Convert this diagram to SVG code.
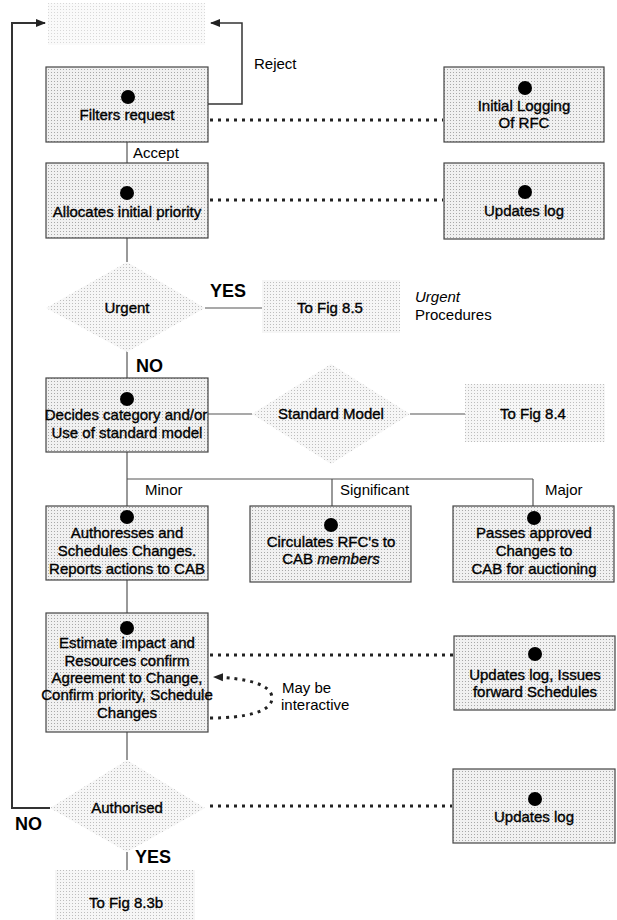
<svg xmlns="http://www.w3.org/2000/svg" width="617" height="920" viewBox="0 0 617 920">
<style>
text{font-family:"Liberation Sans",Arial,sans-serif;font-size:15px;fill:#000}
.t{text-anchor:middle;stroke:#000;stroke-width:0.35}
.lbl{font-size:15px}
.big{font-size:18px;font-weight:bold}
.box{fill:url(#stip);stroke:#444;stroke-width:1.2}
.dia{fill:url(#stip2);stroke:none}
.fig{fill:url(#stip2);stroke:none}
.ln{stroke:#555;stroke-width:1.2;fill:none}
.dot{stroke:#222;stroke-width:3;stroke-dasharray:3 5;fill:none}
.loop{stroke:#333;stroke-width:2;fill:none}
</style>
<defs>
<pattern id="stip" width="3" height="3" patternUnits="userSpaceOnUse">
<rect width="3" height="3" fill="#f1f1f1"/>
<rect width="1" height="1" fill="#a8a8a8"/>
</pattern>
<pattern id="stip2" width="3" height="3" patternUnits="userSpaceOnUse">
<rect width="3" height="3" fill="#f6f6f6"/>
<rect width="1" height="1" fill="#bdbdbd"/>
</pattern>
<pattern id="stip3" width="3" height="3" patternUnits="userSpaceOnUse">
<rect width="3" height="3" fill="#fafafa"/>
<rect width="1" height="1" fill="#d8d8d8"/>
</pattern>
<marker id="arr" viewBox="0 0 10 10" refX="9" refY="5" markerWidth="10" markerHeight="10" markerUnits="userSpaceOnUse" orient="auto">
<path d="M0,1 L10,5 L0,9 z" fill="#222"/>
</marker>
</defs>

<g id="connectors">
<path class="loop" d="M50,808 L12,808 L12,23 L45,23" marker-end="url(#arr)"/>
<path class="ln" d="M208,104 L242,104 L242,23 L211,23" marker-end="url(#arr)" style="stroke:#333;stroke-width:1.5"/>
<line class="ln" x1="127" y1="142" x2="127" y2="163"/>
<line class="ln" x1="127" y1="238" x2="127" y2="262"/>
<line class="ln" x1="205" y1="308" x2="262" y2="308"/>
<line class="ln" x1="127" y1="352" x2="127" y2="378"/>
<line class="ln" x1="208" y1="414" x2="252" y2="414"/>
<line class="ln" x1="410" y1="414" x2="465" y2="414"/>
<line class="ln" x1="127" y1="452" x2="127" y2="506"/>
<polyline class="ln" points="127,479 533,479"/>
<line class="ln" x1="332" y1="479" x2="332" y2="506"/>
<line class="ln" x1="533" y1="479" x2="533" y2="506"/>
<line class="ln" x1="127" y1="580" x2="127" y2="613"/>
<line class="ln" x1="127" y1="732" x2="127" y2="760"/>
<line class="ln" x1="127" y1="852" x2="127" y2="872"/>
<line class="dot" x1="210" y1="120" x2="443" y2="120"/>
<line class="dot" x1="210" y1="200" x2="443" y2="200"/>
<line class="dot" x1="210" y1="655" x2="453" y2="655"/>
<line class="dot" x1="210" y1="806" x2="452" y2="806"/>
<path d="M210,718 C245,718 272,712 272,698 C272,684 245,678 214,677" fill="none" stroke="#222" stroke-width="3" stroke-dasharray="3 5" marker-end="url(#arr)"/>
</g>

<g id="top-box"><rect x="48" y="3" width="157" height="42" fill="url(#stip3)"/></g>

<g id="filters"><rect class="box" x="46" y="67" width="162" height="75"/><circle cx="128" cy="97" r="7"/><text class="t" x="127" y="120">Filters request</text></g>
<text class="lbl" x="254" y="69">Reject</text>
<text class="lbl" x="133" y="158">Accept</text>

<g id="initial-logging"><rect class="box" x="444" y="67" width="160" height="75"/><circle cx="525" cy="88" r="7"/><text class="t" x="524" y="111">Initial Logging</text><text class="t" x="524" y="128">Of RFC</text></g>

<g id="allocates"><rect class="box" x="46" y="163" width="162" height="75"/><circle cx="127" cy="193" r="7"/><text class="t" x="127" y="217">Allocates initial priority</text></g>

<g id="updates-log-1"><rect class="box" x="444" y="163" width="160" height="76"/><circle cx="525" cy="192" r="7"/><text class="t" x="524" y="216">Updates log</text></g>

<g id="urgent"><polygon class="dia" points="127,262 205,308 127,352 46,308"/><text class="t" x="127" y="313">Urgent</text></g>
<text class="big" x="210" y="297">YES</text>
<g id="fig85"><rect class="fig" x="262" y="280" width="138" height="53"/><text class="t" x="330" y="313">To Fig 8.5</text></g>
<text x="415" y="302" style="font-style:italic">Urgent</text>
<text x="415" y="320">Procedures</text>
<text class="big" x="136" y="372">NO</text>

<g id="decides"><rect class="box" x="46" y="378" width="162" height="74"/><circle cx="127" cy="399" r="7"/><text class="t" x="126" y="420">Decides category and/or</text><text class="t" x="127" y="438">Use of standard model</text></g>

<g id="standard-model"><polygon class="dia" points="331,364 410,414 331,464 252,414"/><text class="t" x="331" y="419">Standard Model</text></g>
<g id="fig84"><rect class="fig" x="465" y="384" width="140" height="58"/><text class="t" x="533" y="419">To Fig 8.4</text></g>

<text class="lbl" x="145" y="495">Minor</text>
<text class="lbl" x="340" y="495">Significant</text>
<text class="lbl" x="545" y="495">Major</text>

<g id="minor"><rect class="box" x="46" y="506" width="162" height="74"/><circle cx="127" cy="517" r="7"/><text class="t" x="127" y="538">Authoresses and</text><text class="t" x="127" y="556">Schedules Changes.</text><text class="t" x="127" y="574">Reports actions to CAB</text></g>

<g id="significant"><rect class="box" x="250" y="506" width="161" height="76"/><circle cx="331" cy="525" r="7"/><text class="t" x="331" y="547">Circulates RFC's to</text><text class="t" x="331" y="564">CAB <tspan style="font-style:italic">members</tspan></text></g>

<g id="major"><rect class="box" x="453" y="506" width="161" height="76"/><circle cx="534" cy="518" r="7"/><text class="t" x="534" y="538">Passes approved</text><text class="t" x="534" y="556">Changes to</text><text class="t" x="534" y="574">CAB for auctioning</text></g>

<g id="estimate"><rect class="box" x="46" y="613" width="162" height="119"/><circle cx="127" cy="628" r="7"/><text class="t" x="127" y="648">Estimate impact and</text><text class="t" x="127" y="666">Resources confirm</text><text class="t" x="127" y="683">Agreement to Change,</text><text class="t" x="127" y="700">Confirm priority, Schedule</text><text class="t" x="127" y="718">Changes</text></g>

<text x="282" y="693">May be</text>
<text x="281" y="710">interactive</text>

<g id="updates-log-2"><rect class="box" x="454" y="636" width="161" height="74"/><circle cx="535" cy="654" r="7"/><text class="t" x="535" y="680">Updates log, Issues</text><text class="t" x="535" y="697">forward Schedules</text></g>

<g id="authorised"><polygon class="dia" points="127,760 205,808 127,852 50,808"/><text class="t" x="127" y="813">Authorised</text></g>
<text class="big" x="15" y="830">NO</text>

<g id="updates-log-3"><rect class="box" x="453" y="769" width="162" height="74"/><circle cx="535" cy="799" r="7"/><text class="t" x="534" y="822">Updates log</text></g>

<text class="big" x="135" y="863">YES</text>
<g id="fig83b"><rect class="fig" x="55" y="870" width="140" height="50"/><text class="t" x="126" y="908">To Fig 8.3b</text></g>
</svg>
